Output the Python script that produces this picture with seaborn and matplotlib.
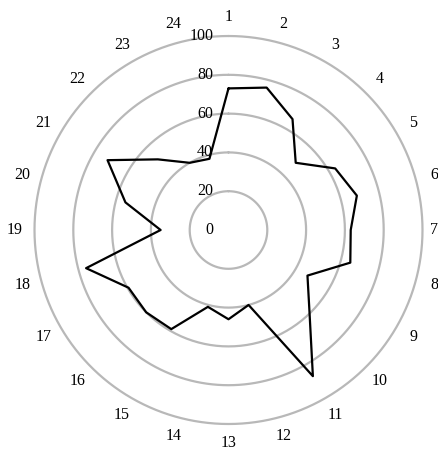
import numpy as np
import pandas as pd
import matplotlib
matplotlib.use("Agg")
import matplotlib.pyplot as plt
import seaborn as sns

# data
categories = [str(i) for i in range(1, 25)]
values = [73, 76, 66, 49, 63.5, 68.5, 63, 65, 47, 59, 87, 40,
          46, 41, 59, 60, 59.5, 76, 35, 55, 72, 51.5, 40, 38]
ring_ticks = [0, 20, 40, 60, 80, 100]

sns.set_theme(style="white")
plt.rcParams['font.family'] = ['Liberation Serif', 'DejaVu Serif']

fig = plt.figure(figsize=(4.39, 4.57), dpi=100)
ax = fig.add_axes([0.0786, 0.0722, 0.8838, 0.849], projection='polar')
ax.set_theta_zero_location('N')
ax.set_theta_direction(-1)

theta = np.linspace(0, 2 * np.pi, len(categories), endpoint=False)
# close the polygon by repeating the first point
df = pd.DataFrame({
    'theta': np.append(theta, 2 * np.pi),
    'value': values + values[:1],
})

sns.lineplot(data=df, x='theta', y='value', sort=False, estimator=None,
             color='black', linewidth=1.6, ax=ax, zorder=3)

ax.set_ylim(0, 100)
ax.set_yticks(ring_ticks[1:])
ax.set_yticklabels([])
ax.set_xticks([])
ax.set_xlabel('')
ax.set_ylabel('')
ax.grid(False)
ax.spines['polar'].set_visible(False)

# gray rings
ring_theta = np.linspace(0, 2 * np.pi, 361)
for v in ring_ticks[1:]:
    ax.plot(ring_theta, np.full_like(ring_theta, v), color='#b8b8b8',
            linewidth=1.6, zorder=1, clip_on=False)

# ring labels, just left of the top axis
for v in ring_ticks:
    ax.annotate(str(v), xy=(0, v), xytext=(-11, 0), textcoords='offset points',
                ha='right', va='center', fontsize=11.5, color='black',
                annotation_clip=False, zorder=4)

# category labels around the outside
for t, lab in zip(theta, categories):
    r = 110
    if lab == '7':
        r = 106  # pull in so it stays on the canvas
    ax.text(t, r, lab, ha='center', va='center', fontsize=11.5,
            color='black', clip_on=False)

fig.savefig('out.png', dpi=100, facecolor='white')
